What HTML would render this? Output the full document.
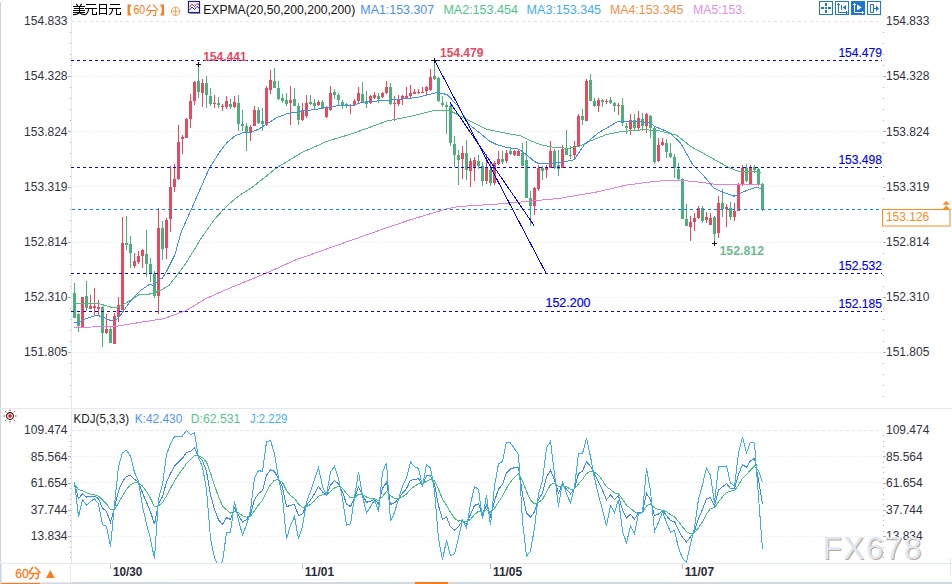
<!DOCTYPE html><html><head><meta charset="utf-8"><style>html,body{margin:0;padding:0;background:#fff;width:952px;height:584px;overflow:hidden}svg{display:block}</style></head><body>
<svg width="952" height="584" viewBox="0 0 952 584" font-family="Liberation Sans, sans-serif">
<rect x="0" y="0" width="952" height="584" fill="#fff"/>
<g shape-rendering="crispEdges">
<rect x="0" y="2" width="1" height="582" fill="#cdd4dd"/>
<rect x="71" y="0" width="1" height="563" fill="#e4e9ef"/>
<rect x="0" y="408" width="952" height="1" fill="#e4e9ef"/>
<rect x="0" y="563" width="952" height="1" fill="#e4e9ef"/>
<rect x="0" y="582" width="952" height="2" fill="#d3d7de"/>
<rect x="950" y="558" width="1" height="18" fill="#e4e9ef"/>
<rect x="1" y="582" width="39" height="2" fill="#ff7a1a"/>
<rect x="415" y="582" width="33" height="2" fill="#ff7a1a"/>
<rect x="175" y="579" width="164" height="1" fill="#eef1f5"/>
<line x1="72" y1="76.5" x2="882" y2="76.5" stroke="#e8ecf1" stroke-width="1" stroke-dasharray="1 2"/>
<line x1="72" y1="131.5" x2="882" y2="131.5" stroke="#e8ecf1" stroke-width="1" stroke-dasharray="1 2"/>
<line x1="72" y1="186.5" x2="882" y2="186.5" stroke="#e8ecf1" stroke-width="1" stroke-dasharray="1 2"/>
<line x1="72" y1="242.5" x2="882" y2="242.5" stroke="#e8ecf1" stroke-width="1" stroke-dasharray="1 2"/>
<line x1="72" y1="297.5" x2="882" y2="297.5" stroke="#e8ecf1" stroke-width="1" stroke-dasharray="1 2"/>
<line x1="72" y1="352.5" x2="882" y2="352.5" stroke="#e8ecf1" stroke-width="1" stroke-dasharray="1 2"/>
<line x1="72" y1="456.5" x2="882" y2="456.5" stroke="#e8ecf1" stroke-width="1" stroke-dasharray="1 2"/>
<line x1="72" y1="482.5" x2="882" y2="482.5" stroke="#e8ecf1" stroke-width="1" stroke-dasharray="1 2"/>
<line x1="72" y1="509.5" x2="882" y2="509.5" stroke="#e8ecf1" stroke-width="1" stroke-dasharray="1 2"/>
<line x1="72" y1="536.5" x2="882" y2="536.5" stroke="#e8ecf1" stroke-width="1" stroke-dasharray="1 2"/>
<line x1="72" y1="21.5" x2="882" y2="21.5" stroke="#e2e7ee" stroke-width="1" stroke-dasharray="3 3"/>
<line x1="72" y1="430.5" x2="882" y2="430.5" stroke="#e2e7ee" stroke-width="1" stroke-dasharray="3 3"/>
<rect x="70" y="32" width="1" height="1" fill="#aab3c0"/>
<rect x="883" y="32" width="1" height="1" fill="#aab3c0"/>
<rect x="70" y="43" width="1" height="1" fill="#aab3c0"/>
<rect x="883" y="43" width="1" height="1" fill="#aab3c0"/>
<rect x="70" y="54" width="1" height="1" fill="#aab3c0"/>
<rect x="883" y="54" width="1" height="1" fill="#aab3c0"/>
<rect x="70" y="65" width="1" height="1" fill="#aab3c0"/>
<rect x="883" y="65" width="1" height="1" fill="#aab3c0"/>
<rect x="68" y="76" width="3" height="1" fill="#aab3c0"/>
<rect x="883" y="76" width="3" height="1" fill="#aab3c0"/>
<rect x="70" y="87" width="1" height="1" fill="#aab3c0"/>
<rect x="883" y="87" width="1" height="1" fill="#aab3c0"/>
<rect x="70" y="98" width="1" height="1" fill="#aab3c0"/>
<rect x="883" y="98" width="1" height="1" fill="#aab3c0"/>
<rect x="70" y="109" width="1" height="1" fill="#aab3c0"/>
<rect x="883" y="109" width="1" height="1" fill="#aab3c0"/>
<rect x="70" y="120" width="1" height="1" fill="#aab3c0"/>
<rect x="883" y="120" width="1" height="1" fill="#aab3c0"/>
<rect x="68" y="131" width="3" height="1" fill="#aab3c0"/>
<rect x="883" y="131" width="3" height="1" fill="#aab3c0"/>
<rect x="70" y="142" width="1" height="1" fill="#aab3c0"/>
<rect x="883" y="142" width="1" height="1" fill="#aab3c0"/>
<rect x="70" y="153" width="1" height="1" fill="#aab3c0"/>
<rect x="883" y="153" width="1" height="1" fill="#aab3c0"/>
<rect x="70" y="165" width="1" height="1" fill="#aab3c0"/>
<rect x="883" y="165" width="1" height="1" fill="#aab3c0"/>
<rect x="70" y="176" width="1" height="1" fill="#aab3c0"/>
<rect x="883" y="176" width="1" height="1" fill="#aab3c0"/>
<rect x="68" y="187" width="3" height="1" fill="#aab3c0"/>
<rect x="883" y="187" width="3" height="1" fill="#aab3c0"/>
<rect x="70" y="198" width="1" height="1" fill="#aab3c0"/>
<rect x="883" y="198" width="1" height="1" fill="#aab3c0"/>
<rect x="70" y="209" width="1" height="1" fill="#aab3c0"/>
<rect x="883" y="209" width="1" height="1" fill="#aab3c0"/>
<rect x="70" y="220" width="1" height="1" fill="#aab3c0"/>
<rect x="883" y="220" width="1" height="1" fill="#aab3c0"/>
<rect x="70" y="231" width="1" height="1" fill="#aab3c0"/>
<rect x="883" y="231" width="1" height="1" fill="#aab3c0"/>
<rect x="68" y="242" width="3" height="1" fill="#aab3c0"/>
<rect x="883" y="242" width="3" height="1" fill="#aab3c0"/>
<rect x="70" y="253" width="1" height="1" fill="#aab3c0"/>
<rect x="883" y="253" width="1" height="1" fill="#aab3c0"/>
<rect x="70" y="264" width="1" height="1" fill="#aab3c0"/>
<rect x="883" y="264" width="1" height="1" fill="#aab3c0"/>
<rect x="70" y="275" width="1" height="1" fill="#aab3c0"/>
<rect x="883" y="275" width="1" height="1" fill="#aab3c0"/>
<rect x="70" y="286" width="1" height="1" fill="#aab3c0"/>
<rect x="883" y="286" width="1" height="1" fill="#aab3c0"/>
<rect x="68" y="297" width="3" height="1" fill="#aab3c0"/>
<rect x="883" y="297" width="3" height="1" fill="#aab3c0"/>
<rect x="70" y="308" width="1" height="1" fill="#aab3c0"/>
<rect x="883" y="308" width="1" height="1" fill="#aab3c0"/>
<rect x="70" y="319" width="1" height="1" fill="#aab3c0"/>
<rect x="883" y="319" width="1" height="1" fill="#aab3c0"/>
<rect x="70" y="330" width="1" height="1" fill="#aab3c0"/>
<rect x="883" y="330" width="1" height="1" fill="#aab3c0"/>
<rect x="70" y="341" width="1" height="1" fill="#aab3c0"/>
<rect x="883" y="341" width="1" height="1" fill="#aab3c0"/>
<rect x="68" y="352" width="3" height="1" fill="#aab3c0"/>
<rect x="883" y="352" width="3" height="1" fill="#aab3c0"/>
<rect x="70" y="363" width="1" height="1" fill="#aab3c0"/>
<rect x="883" y="363" width="1" height="1" fill="#aab3c0"/>
<rect x="70" y="374" width="1" height="1" fill="#aab3c0"/>
<rect x="883" y="374" width="1" height="1" fill="#aab3c0"/>
<rect x="70" y="385" width="1" height="1" fill="#aab3c0"/>
<rect x="883" y="385" width="1" height="1" fill="#aab3c0"/>
<rect x="70" y="396" width="1" height="1" fill="#aab3c0"/>
<rect x="883" y="396" width="1" height="1" fill="#aab3c0"/>
<rect x="70" y="435" width="1" height="1" fill="#aab3c0"/>
<rect x="883" y="435" width="1" height="1" fill="#aab3c0"/>
<rect x="70" y="441" width="1" height="1" fill="#aab3c0"/>
<rect x="883" y="441" width="1" height="1" fill="#aab3c0"/>
<rect x="70" y="446" width="1" height="1" fill="#aab3c0"/>
<rect x="883" y="446" width="1" height="1" fill="#aab3c0"/>
<rect x="70" y="451" width="1" height="1" fill="#aab3c0"/>
<rect x="883" y="451" width="1" height="1" fill="#aab3c0"/>
<rect x="68" y="456" width="3" height="1" fill="#aab3c0"/>
<rect x="883" y="456" width="3" height="1" fill="#aab3c0"/>
<rect x="70" y="462" width="1" height="1" fill="#aab3c0"/>
<rect x="883" y="462" width="1" height="1" fill="#aab3c0"/>
<rect x="70" y="467" width="1" height="1" fill="#aab3c0"/>
<rect x="883" y="467" width="1" height="1" fill="#aab3c0"/>
<rect x="70" y="472" width="1" height="1" fill="#aab3c0"/>
<rect x="883" y="472" width="1" height="1" fill="#aab3c0"/>
<rect x="70" y="478" width="1" height="1" fill="#aab3c0"/>
<rect x="883" y="478" width="1" height="1" fill="#aab3c0"/>
<rect x="68" y="483" width="3" height="1" fill="#aab3c0"/>
<rect x="883" y="483" width="3" height="1" fill="#aab3c0"/>
<rect x="70" y="488" width="1" height="1" fill="#aab3c0"/>
<rect x="883" y="488" width="1" height="1" fill="#aab3c0"/>
<rect x="70" y="494" width="1" height="1" fill="#aab3c0"/>
<rect x="883" y="494" width="1" height="1" fill="#aab3c0"/>
<rect x="70" y="499" width="1" height="1" fill="#aab3c0"/>
<rect x="883" y="499" width="1" height="1" fill="#aab3c0"/>
<rect x="70" y="504" width="1" height="1" fill="#aab3c0"/>
<rect x="883" y="504" width="1" height="1" fill="#aab3c0"/>
<rect x="68" y="510" width="3" height="1" fill="#aab3c0"/>
<rect x="883" y="510" width="3" height="1" fill="#aab3c0"/>
<rect x="70" y="515" width="1" height="1" fill="#aab3c0"/>
<rect x="883" y="515" width="1" height="1" fill="#aab3c0"/>
<rect x="70" y="520" width="1" height="1" fill="#aab3c0"/>
<rect x="883" y="520" width="1" height="1" fill="#aab3c0"/>
<rect x="70" y="525" width="1" height="1" fill="#aab3c0"/>
<rect x="883" y="525" width="1" height="1" fill="#aab3c0"/>
<rect x="70" y="531" width="1" height="1" fill="#aab3c0"/>
<rect x="883" y="531" width="1" height="1" fill="#aab3c0"/>
<rect x="68" y="536" width="3" height="1" fill="#aab3c0"/>
<rect x="883" y="536" width="3" height="1" fill="#aab3c0"/>
<rect x="70" y="541" width="1" height="1" fill="#aab3c0"/>
<rect x="883" y="541" width="1" height="1" fill="#aab3c0"/>
<rect x="70" y="547" width="1" height="1" fill="#aab3c0"/>
<rect x="883" y="547" width="1" height="1" fill="#aab3c0"/>
<rect x="70" y="552" width="1" height="1" fill="#aab3c0"/>
<rect x="883" y="552" width="1" height="1" fill="#aab3c0"/>
<rect x="70" y="557" width="1" height="1" fill="#aab3c0"/>
<rect x="883" y="557" width="1" height="1" fill="#aab3c0"/>
<rect x="110" y="564" width="1" height="5" fill="#b4bcc8"/>
<rect x="302" y="564" width="1" height="5" fill="#b4bcc8"/>
<rect x="490" y="564" width="1" height="5" fill="#b4bcc8"/>
<rect x="682" y="564" width="1" height="5" fill="#b4bcc8"/>
</g>
<text x="67.5" y="25.2" fill="#333340" font-size="12" text-anchor="end" font-weight="normal">154.833</text>
<text x="886.0" y="25.2" fill="#333340" font-size="12" text-anchor="start" font-weight="normal">154.833</text>
<text x="67.5" y="80.4" fill="#333340" font-size="12" text-anchor="end" font-weight="normal">154.328</text>
<text x="886.0" y="80.4" fill="#333340" font-size="12" text-anchor="start" font-weight="normal">154.328</text>
<text x="67.5" y="135.6" fill="#333340" font-size="12" text-anchor="end" font-weight="normal">153.824</text>
<text x="886.0" y="135.6" fill="#333340" font-size="12" text-anchor="start" font-weight="normal">153.824</text>
<text x="67.5" y="190.8" fill="#333340" font-size="12" text-anchor="end" font-weight="normal">153.319</text>
<text x="886.0" y="190.8" fill="#333340" font-size="12" text-anchor="start" font-weight="normal">153.319</text>
<text x="67.5" y="246.0" fill="#333340" font-size="12" text-anchor="end" font-weight="normal">152.814</text>
<text x="886.0" y="246.0" fill="#333340" font-size="12" text-anchor="start" font-weight="normal">152.814</text>
<text x="67.5" y="301.2" fill="#333340" font-size="12" text-anchor="end" font-weight="normal">152.310</text>
<text x="886.0" y="301.2" fill="#333340" font-size="12" text-anchor="start" font-weight="normal">152.310</text>
<text x="67.5" y="356.4" fill="#333340" font-size="12" text-anchor="end" font-weight="normal">151.805</text>
<text x="886.0" y="356.4" fill="#333340" font-size="12" text-anchor="start" font-weight="normal">151.805</text>
<text x="67.5" y="434.2" fill="#333340" font-size="12" text-anchor="end" font-weight="normal">109.474</text>
<text x="886.0" y="434.2" fill="#333340" font-size="12" text-anchor="start" font-weight="normal">109.474</text>
<text x="67.5" y="460.7" fill="#333340" font-size="12" text-anchor="end" font-weight="normal">85.564</text>
<text x="886.0" y="460.7" fill="#333340" font-size="12" text-anchor="start" font-weight="normal">85.564</text>
<text x="67.5" y="487.2" fill="#333340" font-size="12" text-anchor="end" font-weight="normal">61.654</text>
<text x="886.0" y="487.2" fill="#333340" font-size="12" text-anchor="start" font-weight="normal">61.654</text>
<text x="67.5" y="513.7" fill="#333340" font-size="12" text-anchor="end" font-weight="normal">37.744</text>
<text x="886.0" y="513.7" fill="#333340" font-size="12" text-anchor="start" font-weight="normal">37.744</text>
<text x="67.5" y="540.2" fill="#333340" font-size="12" text-anchor="end" font-weight="normal">13.834</text>
<text x="886.0" y="540.2" fill="#333340" font-size="12" text-anchor="start" font-weight="normal">13.834</text>
<g shape-rendering="crispEdges">
<rect x="74" y="283.0" width="1" height="34.5" fill="#4cb07e"/>
<rect x="73" y="293.0" width="3" height="24.5" fill="#4cb07e"/>
<rect x="78" y="313.0" width="1" height="18.5" fill="#4cb07e"/>
<rect x="77" y="314.0" width="3" height="12.0" fill="#4cb07e"/>
<rect x="82" y="296.5" width="1" height="30.0" fill="#e9485e"/>
<rect x="81" y="296.8" width="3" height="29.7" fill="#e9485e"/>
<rect x="86" y="281.0" width="1" height="29.5" fill="#4cb07e"/>
<rect x="85" y="296.0" width="3" height="12.0" fill="#4cb07e"/>
<rect x="90" y="295.0" width="1" height="14.0" fill="#e9485e"/>
<rect x="89" y="306.0" width="3" height="2.5" fill="#e9485e"/>
<rect x="94" y="288.0" width="1" height="27.0" fill="#e9485e"/>
<rect x="93" y="306.0" width="3" height="2.0" fill="#e9485e"/>
<rect x="98" y="299.8" width="1" height="14.7" fill="#e9485e"/>
<rect x="97" y="307.0" width="3" height="2.0" fill="#e9485e"/>
<rect x="102" y="306.0" width="1" height="40.5" fill="#4cb07e"/>
<rect x="101" y="307.0" width="3" height="25.5" fill="#4cb07e"/>
<rect x="106" y="314.0" width="1" height="20.0" fill="#e9485e"/>
<rect x="105" y="328.5" width="3" height="4.5" fill="#e9485e"/>
<rect x="110" y="327.0" width="1" height="15.5" fill="#4cb07e"/>
<rect x="109" y="329.0" width="3" height="13.5" fill="#4cb07e"/>
<rect x="114" y="313.0" width="1" height="31.0" fill="#e9485e"/>
<rect x="113" y="316.0" width="3" height="28.0" fill="#e9485e"/>
<rect x="118" y="297.0" width="1" height="25.0" fill="#e9485e"/>
<rect x="117" y="304.5" width="3" height="12.0" fill="#e9485e"/>
<rect x="122" y="217.0" width="1" height="93.0" fill="#e9485e"/>
<rect x="121" y="242.5" width="3" height="67.5" fill="#e9485e"/>
<rect x="126" y="215.5" width="1" height="34.0" fill="#4cb07e"/>
<rect x="125" y="242.5" width="3" height="2.5" fill="#4cb07e"/>
<rect x="130" y="236.0" width="1" height="31.5" fill="#4cb07e"/>
<rect x="129" y="244.0" width="3" height="9.0" fill="#4cb07e"/>
<rect x="134" y="252.5" width="1" height="15.0" fill="#e9485e"/>
<rect x="133" y="261.0" width="3" height="4.5" fill="#e9485e"/>
<rect x="138" y="251.0" width="1" height="13.0" fill="#e9485e"/>
<rect x="137" y="256.0" width="3" height="6.0" fill="#e9485e"/>
<rect x="142" y="249.0" width="1" height="18.5" fill="#e9485e"/>
<rect x="141" y="250.0" width="3" height="5.5" fill="#e9485e"/>
<rect x="146" y="229.5" width="1" height="47.5" fill="#4cb07e"/>
<rect x="145" y="254.0" width="3" height="10.0" fill="#4cb07e"/>
<rect x="150" y="257.7" width="1" height="24.7" fill="#4cb07e"/>
<rect x="149" y="264.0" width="3" height="8.8" fill="#4cb07e"/>
<rect x="154" y="271.0" width="1" height="26.5" fill="#4cb07e"/>
<rect x="153" y="272.5" width="3" height="23.5" fill="#4cb07e"/>
<rect x="158" y="208.0" width="1" height="106.0" fill="#e9485e"/>
<rect x="157" y="228.0" width="3" height="68.0" fill="#e9485e"/>
<rect x="162" y="221.0" width="1" height="39.0" fill="#4cb07e"/>
<rect x="161" y="227.5" width="3" height="21.5" fill="#4cb07e"/>
<rect x="166" y="218.0" width="1" height="41.0" fill="#e9485e"/>
<rect x="165" y="220.0" width="3" height="27.5" fill="#e9485e"/>
<rect x="170" y="166.0" width="1" height="66.0" fill="#e9485e"/>
<rect x="169" y="187.0" width="3" height="32.0" fill="#e9485e"/>
<rect x="174" y="164.0" width="1" height="27.7" fill="#e9485e"/>
<rect x="173" y="179.0" width="3" height="8.0" fill="#e9485e"/>
<rect x="178" y="125.3" width="1" height="54.7" fill="#e9485e"/>
<rect x="177" y="141.5" width="3" height="37.1" fill="#e9485e"/>
<rect x="182" y="134.8" width="1" height="19.1" fill="#e9485e"/>
<rect x="181" y="137.0" width="3" height="2.0" fill="#e9485e"/>
<rect x="186" y="118.0" width="1" height="20.0" fill="#e9485e"/>
<rect x="185" y="119.0" width="3" height="19.0" fill="#e9485e"/>
<rect x="190" y="94.0" width="1" height="33.9" fill="#e9485e"/>
<rect x="189" y="101.2" width="3" height="17.9" fill="#e9485e"/>
<rect x="194" y="80.8" width="1" height="24.0" fill="#e9485e"/>
<rect x="193" y="81.6" width="3" height="19.3" fill="#e9485e"/>
<rect x="198" y="64.7" width="1" height="33.1" fill="#4cb07e"/>
<rect x="197" y="80.8" width="3" height="10.8" fill="#4cb07e"/>
<rect x="202" y="79.0" width="1" height="28.0" fill="#e9485e"/>
<rect x="201" y="83.2" width="3" height="9.7" fill="#e9485e"/>
<rect x="206" y="76.2" width="1" height="31.6" fill="#4cb07e"/>
<rect x="205" y="83.2" width="3" height="11.5" fill="#4cb07e"/>
<rect x="210" y="87.8" width="1" height="18.5" fill="#4cb07e"/>
<rect x="209" y="96.0" width="3" height="8.0" fill="#4cb07e"/>
<rect x="214" y="95.0" width="1" height="12.8" fill="#e9485e"/>
<rect x="213" y="102.8" width="3" height="1.0" fill="#e9485e"/>
<rect x="218" y="97.0" width="1" height="10.8" fill="#4cb07e"/>
<rect x="217" y="103.2" width="3" height="1.6" fill="#4cb07e"/>
<rect x="222" y="104.0" width="1" height="7.0" fill="#e9485e"/>
<rect x="221" y="105.5" width="3" height="1.3" fill="#e9485e"/>
<rect x="226" y="96.0" width="1" height="12.6" fill="#e9485e"/>
<rect x="225" y="101.0" width="3" height="5.8" fill="#e9485e"/>
<rect x="230" y="99.0" width="1" height="10.0" fill="#4cb07e"/>
<rect x="229" y="104.0" width="3" height="3.0" fill="#4cb07e"/>
<rect x="234" y="96.0" width="1" height="12.0" fill="#e9485e"/>
<rect x="233" y="102.0" width="3" height="5.0" fill="#e9485e"/>
<rect x="238" y="95.0" width="1" height="36.0" fill="#4cb07e"/>
<rect x="237" y="103.0" width="3" height="21.0" fill="#4cb07e"/>
<rect x="242" y="109.5" width="1" height="21.5" fill="#4cb07e"/>
<rect x="241" y="124.0" width="3" height="2.0" fill="#4cb07e"/>
<rect x="246" y="122.5" width="1" height="28.5" fill="#4cb07e"/>
<rect x="245" y="126.0" width="3" height="6.5" fill="#4cb07e"/>
<rect x="250" y="125.0" width="1" height="15.5" fill="#e9485e"/>
<rect x="249" y="127.0" width="3" height="6.0" fill="#e9485e"/>
<rect x="254" y="106.0" width="1" height="20.0" fill="#e9485e"/>
<rect x="253" y="110.0" width="3" height="16.0" fill="#e9485e"/>
<rect x="258" y="107.0" width="1" height="17.0" fill="#4cb07e"/>
<rect x="257" y="110.0" width="3" height="12.5" fill="#4cb07e"/>
<rect x="262" y="108.0" width="1" height="23.0" fill="#4cb07e"/>
<rect x="261" y="121.0" width="3" height="3.0" fill="#4cb07e"/>
<rect x="266" y="86.0" width="1" height="40.0" fill="#e9485e"/>
<rect x="265" y="88.0" width="3" height="37.0" fill="#e9485e"/>
<rect x="270" y="70.0" width="1" height="24.0" fill="#e9485e"/>
<rect x="269" y="80.0" width="3" height="10.0" fill="#e9485e"/>
<rect x="274" y="68.0" width="1" height="20.0" fill="#4cb07e"/>
<rect x="273" y="80.5" width="3" height="7.0" fill="#4cb07e"/>
<rect x="278" y="81.0" width="1" height="19.0" fill="#4cb07e"/>
<rect x="277" y="87.5" width="3" height="11.5" fill="#4cb07e"/>
<rect x="282" y="94.0" width="1" height="8.5" fill="#4cb07e"/>
<rect x="281" y="97.5" width="3" height="3.5" fill="#4cb07e"/>
<rect x="286" y="93.0" width="1" height="13.0" fill="#4cb07e"/>
<rect x="285" y="100.0" width="3" height="4.0" fill="#4cb07e"/>
<rect x="290" y="86.0" width="1" height="38.5" fill="#e9485e"/>
<rect x="289" y="99.5" width="3" height="3.0" fill="#e9485e"/>
<rect x="294" y="87.5" width="1" height="18.5" fill="#4cb07e"/>
<rect x="293" y="99.0" width="3" height="6.5" fill="#4cb07e"/>
<rect x="298" y="103.0" width="1" height="21.5" fill="#4cb07e"/>
<rect x="297" y="105.5" width="3" height="14.5" fill="#4cb07e"/>
<rect x="302" y="103.0" width="1" height="18.0" fill="#e9485e"/>
<rect x="301" y="110.0" width="3" height="10.0" fill="#e9485e"/>
<rect x="306" y="94.5" width="1" height="23.0" fill="#e9485e"/>
<rect x="305" y="102.5" width="3" height="13.5" fill="#e9485e"/>
<rect x="310" y="94.5" width="1" height="10.0" fill="#4cb07e"/>
<rect x="309" y="102.0" width="3" height="2.0" fill="#4cb07e"/>
<rect x="314" y="99.0" width="1" height="10.0" fill="#4cb07e"/>
<rect x="313" y="102.5" width="3" height="3.0" fill="#4cb07e"/>
<rect x="318" y="99.5" width="1" height="6.0" fill="#e9485e"/>
<rect x="317" y="102.0" width="3" height="2.5" fill="#e9485e"/>
<rect x="322" y="100.0" width="1" height="9.0" fill="#4cb07e"/>
<rect x="321" y="102.0" width="3" height="5.5" fill="#4cb07e"/>
<rect x="326" y="105.5" width="1" height="12.0" fill="#e9485e"/>
<rect x="325" y="107.0" width="3" height="10.0" fill="#e9485e"/>
<rect x="330" y="86.0" width="1" height="25.0" fill="#e9485e"/>
<rect x="329" y="93.0" width="3" height="17.0" fill="#e9485e"/>
<rect x="334" y="89.0" width="1" height="10.0" fill="#4cb07e"/>
<rect x="333" y="92.0" width="3" height="3.0" fill="#4cb07e"/>
<rect x="338" y="93.0" width="1" height="12.0" fill="#4cb07e"/>
<rect x="337" y="94.5" width="3" height="5.5" fill="#4cb07e"/>
<rect x="342" y="99.5" width="1" height="9.5" fill="#4cb07e"/>
<rect x="341" y="102.0" width="3" height="3.0" fill="#4cb07e"/>
<rect x="346" y="102.5" width="1" height="5.5" fill="#4cb07e"/>
<rect x="345" y="104.0" width="3" height="2.0" fill="#4cb07e"/>
<rect x="350" y="104.0" width="1" height="10.0" fill="#e9485e"/>
<rect x="349" y="105.0" width="3" height="1.0" fill="#e9485e"/>
<rect x="354" y="99.0" width="1" height="7.0" fill="#e9485e"/>
<rect x="353" y="100.5" width="3" height="4.5" fill="#e9485e"/>
<rect x="358" y="87.0" width="1" height="15.5" fill="#e9485e"/>
<rect x="357" y="93.0" width="3" height="8.0" fill="#e9485e"/>
<rect x="362" y="82.0" width="1" height="21.0" fill="#4cb07e"/>
<rect x="361" y="94.0" width="3" height="8.5" fill="#4cb07e"/>
<rect x="366" y="90.5" width="1" height="17.0" fill="#4cb07e"/>
<rect x="365" y="101.0" width="3" height="3.0" fill="#4cb07e"/>
<rect x="370" y="94.5" width="1" height="9.5" fill="#e9485e"/>
<rect x="369" y="95.5" width="3" height="7.0" fill="#e9485e"/>
<rect x="374" y="92.0" width="1" height="7.0" fill="#e9485e"/>
<rect x="373" y="94.5" width="3" height="3.0" fill="#e9485e"/>
<rect x="378" y="93.0" width="1" height="9.5" fill="#4cb07e"/>
<rect x="377" y="95.5" width="3" height="3.5" fill="#4cb07e"/>
<rect x="382" y="92.0" width="1" height="6.0" fill="#e9485e"/>
<rect x="381" y="93.0" width="3" height="4.0" fill="#e9485e"/>
<rect x="386" y="81.0" width="1" height="13.0" fill="#e9485e"/>
<rect x="385" y="87.0" width="3" height="6.0" fill="#e9485e"/>
<rect x="390" y="82.5" width="1" height="22.0" fill="#4cb07e"/>
<rect x="389" y="87.0" width="3" height="17.0" fill="#4cb07e"/>
<rect x="394" y="96.0" width="1" height="25.0" fill="#e9485e"/>
<rect x="393" y="102.5" width="3" height="1.5" fill="#e9485e"/>
<rect x="398" y="95.0" width="1" height="10.5" fill="#e9485e"/>
<rect x="397" y="99.0" width="3" height="5.0" fill="#e9485e"/>
<rect x="402" y="95.0" width="1" height="10.0" fill="#e9485e"/>
<rect x="401" y="96.0" width="3" height="3.0" fill="#e9485e"/>
<rect x="406" y="86.9" width="1" height="10.7" fill="#e9485e"/>
<rect x="405" y="96.1" width="3" height="1.5" fill="#e9485e"/>
<rect x="410" y="85.0" width="1" height="12.5" fill="#e9485e"/>
<rect x="409" y="92.5" width="3" height="3.5" fill="#e9485e"/>
<rect x="414" y="88.9" width="1" height="4.6" fill="#e9485e"/>
<rect x="413" y="92.0" width="3" height="1.5" fill="#e9485e"/>
<rect x="418" y="88.9" width="1" height="4.6" fill="#e9485e"/>
<rect x="417" y="91.5" width="3" height="1.5" fill="#e9485e"/>
<rect x="422" y="87.0" width="1" height="5.8" fill="#e9485e"/>
<rect x="421" y="91.5" width="3" height="1.3" fill="#e9485e"/>
<rect x="426" y="85.8" width="1" height="8.8" fill="#e9485e"/>
<rect x="425" y="86.9" width="3" height="3.6" fill="#e9485e"/>
<rect x="430" y="69.0" width="1" height="21.5" fill="#e9485e"/>
<rect x="429" y="77.0" width="3" height="13.0" fill="#e9485e"/>
<rect x="434" y="60.0" width="1" height="20.0" fill="#4cb07e"/>
<rect x="433" y="76.0" width="3" height="3.0" fill="#4cb07e"/>
<rect x="438" y="77.0" width="1" height="25.0" fill="#4cb07e"/>
<rect x="437" y="78.0" width="3" height="23.0" fill="#4cb07e"/>
<rect x="442" y="95.9" width="1" height="11.1" fill="#4cb07e"/>
<rect x="441" y="102.7" width="3" height="2.6" fill="#4cb07e"/>
<rect x="446" y="101.8" width="1" height="31.7" fill="#4cb07e"/>
<rect x="445" y="104.9" width="3" height="2.1" fill="#4cb07e"/>
<rect x="450" y="104.0" width="1" height="42.0" fill="#4cb07e"/>
<rect x="449" y="106.0" width="3" height="36.5" fill="#4cb07e"/>
<rect x="454" y="136.1" width="1" height="30.8" fill="#4cb07e"/>
<rect x="453" y="143.8" width="3" height="11.1" fill="#4cb07e"/>
<rect x="458" y="150.0" width="1" height="35.0" fill="#4cb07e"/>
<rect x="457" y="155.0" width="3" height="4.5" fill="#4cb07e"/>
<rect x="462" y="146.0" width="1" height="33.0" fill="#e9485e"/>
<rect x="461" y="153.0" width="3" height="6.0" fill="#e9485e"/>
<rect x="466" y="140.0" width="1" height="40.0" fill="#4cb07e"/>
<rect x="465" y="153.0" width="3" height="17.0" fill="#4cb07e"/>
<rect x="470" y="157.5" width="1" height="29.5" fill="#e9485e"/>
<rect x="469" y="161.0" width="3" height="9.5" fill="#e9485e"/>
<rect x="474" y="157.0" width="1" height="24.0" fill="#e9485e"/>
<rect x="473" y="160.0" width="3" height="7.5" fill="#e9485e"/>
<rect x="478" y="155.0" width="1" height="14.0" fill="#4cb07e"/>
<rect x="477" y="161.0" width="3" height="4.5" fill="#4cb07e"/>
<rect x="482" y="162.0" width="1" height="24.0" fill="#4cb07e"/>
<rect x="481" y="165.5" width="3" height="15.0" fill="#4cb07e"/>
<rect x="486" y="154.0" width="1" height="29.8" fill="#e9485e"/>
<rect x="485" y="167.5" width="3" height="13.5" fill="#e9485e"/>
<rect x="490" y="163.0" width="1" height="23.0" fill="#4cb07e"/>
<rect x="489" y="170.0" width="3" height="12.5" fill="#4cb07e"/>
<rect x="494" y="161.0" width="1" height="24.0" fill="#e9485e"/>
<rect x="493" y="162.5" width="3" height="20.0" fill="#e9485e"/>
<rect x="498" y="151.0" width="1" height="14.0" fill="#e9485e"/>
<rect x="497" y="159.0" width="3" height="5.0" fill="#e9485e"/>
<rect x="502" y="151.0" width="1" height="12.8" fill="#4cb07e"/>
<rect x="501" y="159.0" width="3" height="3.0" fill="#4cb07e"/>
<rect x="506" y="150.0" width="1" height="12.5" fill="#e9485e"/>
<rect x="505" y="153.0" width="3" height="8.0" fill="#e9485e"/>
<rect x="510" y="147.0" width="1" height="8.0" fill="#4cb07e"/>
<rect x="509" y="151.0" width="3" height="3.0" fill="#4cb07e"/>
<rect x="514" y="150.0" width="1" height="5.5" fill="#e9485e"/>
<rect x="513" y="151.0" width="3" height="3.5" fill="#e9485e"/>
<rect x="518" y="149.5" width="1" height="6.8" fill="#e9485e"/>
<rect x="517" y="151.0" width="3" height="4.5" fill="#e9485e"/>
<rect x="522" y="142.5" width="1" height="23.8" fill="#4cb07e"/>
<rect x="521" y="152.5" width="3" height="13.0" fill="#4cb07e"/>
<rect x="526" y="141.0" width="1" height="57.0" fill="#4cb07e"/>
<rect x="525" y="160.0" width="3" height="37.5" fill="#4cb07e"/>
<rect x="530" y="190.5" width="1" height="35.5" fill="#4cb07e"/>
<rect x="529" y="197.5" width="3" height="8.5" fill="#4cb07e"/>
<rect x="534" y="187.0" width="1" height="28.0" fill="#e9485e"/>
<rect x="533" y="188.0" width="3" height="18.0" fill="#e9485e"/>
<rect x="538" y="165.0" width="1" height="26.0" fill="#e9485e"/>
<rect x="537" y="167.5" width="3" height="21.5" fill="#e9485e"/>
<rect x="542" y="166.0" width="1" height="14.0" fill="#4cb07e"/>
<rect x="541" y="167.5" width="3" height="3.5" fill="#4cb07e"/>
<rect x="546" y="164.5" width="1" height="13.0" fill="#e9485e"/>
<rect x="545" y="167.5" width="3" height="2.5" fill="#e9485e"/>
<rect x="550" y="140.5" width="1" height="27.5" fill="#e9485e"/>
<rect x="549" y="151.0" width="3" height="16.5" fill="#e9485e"/>
<rect x="554" y="149.0" width="1" height="19.8" fill="#4cb07e"/>
<rect x="553" y="151.0" width="3" height="16.5" fill="#4cb07e"/>
<rect x="558" y="150.0" width="1" height="26.0" fill="#4cb07e"/>
<rect x="557" y="164.5" width="3" height="4.2" fill="#4cb07e"/>
<rect x="562" y="144.8" width="1" height="23.2" fill="#e9485e"/>
<rect x="561" y="149.0" width="3" height="18.5" fill="#e9485e"/>
<rect x="566" y="130.2" width="1" height="24.8" fill="#4cb07e"/>
<rect x="565" y="149.0" width="3" height="5.5" fill="#4cb07e"/>
<rect x="570" y="146.0" width="1" height="13.0" fill="#4cb07e"/>
<rect x="569" y="154.5" width="3" height="1.5" fill="#4cb07e"/>
<rect x="574" y="141.0" width="1" height="17.8" fill="#e9485e"/>
<rect x="573" y="145.6" width="3" height="9.4" fill="#e9485e"/>
<rect x="578" y="114.0" width="1" height="33.0" fill="#e9485e"/>
<rect x="577" y="115.8" width="3" height="30.6" fill="#e9485e"/>
<rect x="582" y="109.0" width="1" height="15.8" fill="#4cb07e"/>
<rect x="581" y="116.3" width="3" height="3.9" fill="#4cb07e"/>
<rect x="586" y="78.8" width="1" height="42.2" fill="#e9485e"/>
<rect x="585" y="80.8" width="3" height="40.1" fill="#e9485e"/>
<rect x="590" y="73.9" width="1" height="27.1" fill="#4cb07e"/>
<rect x="589" y="80.0" width="3" height="20.9" fill="#4cb07e"/>
<rect x="594" y="97.8" width="1" height="9.2" fill="#4cb07e"/>
<rect x="593" y="100.9" width="3" height="5.4" fill="#4cb07e"/>
<rect x="598" y="97.8" width="1" height="13.9" fill="#e9485e"/>
<rect x="597" y="100.1" width="3" height="6.2" fill="#e9485e"/>
<rect x="602" y="98.5" width="1" height="8.5" fill="#4cb07e"/>
<rect x="601" y="100.4" width="3" height="1.6" fill="#4cb07e"/>
<rect x="606" y="98.5" width="1" height="5.5" fill="#e9485e"/>
<rect x="605" y="100.8" width="3" height="1.2" fill="#e9485e"/>
<rect x="610" y="97.0" width="1" height="7.0" fill="#4cb07e"/>
<rect x="609" y="99.8" width="3" height="3.1" fill="#4cb07e"/>
<rect x="614" y="101.6" width="1" height="10.1" fill="#4cb07e"/>
<rect x="613" y="103.0" width="3" height="3.0" fill="#4cb07e"/>
<rect x="618" y="103.0" width="1" height="11.8" fill="#e9485e"/>
<rect x="617" y="104.7" width="3" height="1.6" fill="#e9485e"/>
<rect x="622" y="97.5" width="1" height="28.5" fill="#4cb07e"/>
<rect x="621" y="105.0" width="3" height="17.5" fill="#4cb07e"/>
<rect x="626" y="122.5" width="1" height="11.2" fill="#4cb07e"/>
<rect x="625" y="126.0" width="3" height="2.0" fill="#4cb07e"/>
<rect x="630" y="113.8" width="1" height="21.2" fill="#e9485e"/>
<rect x="629" y="120.0" width="3" height="8.8" fill="#e9485e"/>
<rect x="634" y="113.8" width="1" height="17.5" fill="#4cb07e"/>
<rect x="633" y="120.0" width="3" height="7.5" fill="#4cb07e"/>
<rect x="638" y="110.5" width="1" height="19.5" fill="#e9485e"/>
<rect x="637" y="117.5" width="3" height="10.0" fill="#e9485e"/>
<rect x="642" y="112.5" width="1" height="18.8" fill="#4cb07e"/>
<rect x="641" y="118.8" width="3" height="7.5" fill="#4cb07e"/>
<rect x="646" y="113.0" width="1" height="19.5" fill="#e9485e"/>
<rect x="645" y="113.8" width="3" height="12.5" fill="#e9485e"/>
<rect x="650" y="114.5" width="1" height="23.0" fill="#4cb07e"/>
<rect x="649" y="115.5" width="3" height="12.5" fill="#4cb07e"/>
<rect x="654" y="127.0" width="1" height="36.8" fill="#4cb07e"/>
<rect x="653" y="128.0" width="3" height="34.0" fill="#4cb07e"/>
<rect x="658" y="138.0" width="1" height="24.0" fill="#e9485e"/>
<rect x="657" y="145.0" width="3" height="16.2" fill="#e9485e"/>
<rect x="662" y="138.0" width="1" height="8.2" fill="#e9485e"/>
<rect x="661" y="142.0" width="3" height="3.0" fill="#e9485e"/>
<rect x="666" y="138.8" width="1" height="18.8" fill="#4cb07e"/>
<rect x="665" y="142.5" width="3" height="9.5" fill="#4cb07e"/>
<rect x="670" y="142.5" width="1" height="15.5" fill="#4cb07e"/>
<rect x="669" y="153.0" width="3" height="4.0" fill="#4cb07e"/>
<rect x="674" y="153.8" width="1" height="23.8" fill="#4cb07e"/>
<rect x="673" y="157.0" width="3" height="10.5" fill="#4cb07e"/>
<rect x="678" y="162.5" width="1" height="17.5" fill="#4cb07e"/>
<rect x="677" y="168.8" width="3" height="10.0" fill="#4cb07e"/>
<rect x="682" y="178.0" width="1" height="40.8" fill="#4cb07e"/>
<rect x="681" y="179.0" width="3" height="39.5" fill="#4cb07e"/>
<rect x="686" y="204.0" width="1" height="21.6" fill="#4cb07e"/>
<rect x="685" y="219.0" width="3" height="6.6" fill="#4cb07e"/>
<rect x="690" y="216.2" width="1" height="24.5" fill="#e9485e"/>
<rect x="689" y="221.8" width="3" height="4.7" fill="#e9485e"/>
<rect x="694" y="212.9" width="1" height="17.9" fill="#e9485e"/>
<rect x="693" y="218.0" width="3" height="3.8" fill="#e9485e"/>
<rect x="698" y="205.5" width="1" height="13.2" fill="#e9485e"/>
<rect x="697" y="207.5" width="3" height="10.5" fill="#e9485e"/>
<rect x="702" y="206.2" width="1" height="16.8" fill="#4cb07e"/>
<rect x="701" y="208.0" width="3" height="13.0" fill="#4cb07e"/>
<rect x="706" y="212.0" width="1" height="10.8" fill="#e9485e"/>
<rect x="705" y="217.1" width="3" height="2.9" fill="#e9485e"/>
<rect x="710" y="212.9" width="1" height="11.8" fill="#e9485e"/>
<rect x="709" y="218.0" width="3" height="6.7" fill="#e9485e"/>
<rect x="714" y="216.2" width="1" height="26.8" fill="#4cb07e"/>
<rect x="713" y="216.7" width="3" height="16.9" fill="#4cb07e"/>
<rect x="718" y="195.5" width="1" height="42.3" fill="#e9485e"/>
<rect x="717" y="203.0" width="3" height="29.7" fill="#e9485e"/>
<rect x="722" y="189.3" width="1" height="27.7" fill="#4cb07e"/>
<rect x="721" y="203.2" width="3" height="5.4" fill="#4cb07e"/>
<rect x="726" y="204.0" width="1" height="23.1" fill="#e9485e"/>
<rect x="725" y="207.0" width="3" height="2.4" fill="#e9485e"/>
<rect x="730" y="202.0" width="1" height="18.2" fill="#4cb07e"/>
<rect x="729" y="207.8" width="3" height="9.3" fill="#4cb07e"/>
<rect x="734" y="203.0" width="1" height="18.0" fill="#e9485e"/>
<rect x="733" y="211.0" width="3" height="6.0" fill="#e9485e"/>
<rect x="738" y="183.2" width="1" height="27.8" fill="#e9485e"/>
<rect x="737" y="185.2" width="3" height="25.3" fill="#e9485e"/>
<rect x="742" y="165.4" width="1" height="20.1" fill="#e9485e"/>
<rect x="741" y="167.7" width="3" height="17.5" fill="#e9485e"/>
<rect x="746" y="164.2" width="1" height="17.4" fill="#4cb07e"/>
<rect x="745" y="167.7" width="3" height="13.1" fill="#4cb07e"/>
<rect x="750" y="165.4" width="1" height="19.1" fill="#e9485e"/>
<rect x="749" y="167.7" width="3" height="16.3" fill="#e9485e"/>
<rect x="754" y="165.4" width="1" height="7.6" fill="#4cb07e"/>
<rect x="753" y="166.7" width="3" height="3.3" fill="#4cb07e"/>
<rect x="758" y="168.0" width="1" height="18.2" fill="#4cb07e"/>
<rect x="757" y="169.3" width="3" height="15.4" fill="#4cb07e"/>
<rect x="762" y="183.2" width="1" height="27.8" fill="#4cb07e"/>
<rect x="761" y="183.9" width="3" height="26.3" fill="#4cb07e"/>
</g>
<polyline points="74.30,327.50 92.00,327.00 118.20,326.00 133.60,323.50 146.00,321.40 163.80,318.70 173.40,315.30 186.00,310.50 205.50,298.80 232.00,287.10 264.80,273.80 295.00,260.20 332.80,246.80 370.60,233.40 408.50,220.30 446.30,209.00 458.90,206.50 472.00,205.70 502.00,203.75 532.00,201.00 560.00,198.30 597.70,191.80 626.00,185.20 654.20,181.40 673.10,180.10 692.00,181.25 717.00,184.50 747.00,185.00 762.00,184.50" fill="none" stroke="#e37fdc" stroke-width="1" shape-rendering="crispEdges"/>
<polyline points="75.00,303.10 87.40,303.50 99.70,303.90 110.50,307.00 118.20,307.00 130.60,300.40 140.00,294.00 146.00,294.70 154.20,293.10 162.40,289.20 169.30,285.10 178.90,272.80 186.00,263.20 201.70,237.40 214.50,219.40 227.40,205.30 240.00,195.00 252.00,187.50 277.00,167.50 302.00,152.50 327.00,141.25 352.00,133.75 387.00,121.00 412.00,116.00 434.50,110.50 449.50,110.50 468.30,120.00 487.10,129.40 506.00,133.20 521.00,136.00 530.40,140.70 539.90,144.50 553.00,147.30 568.10,148.30 578.80,146.50 588.30,141.80 607.10,134.30 622.20,131.50 644.80,129.60 660.00,131.00 676.50,135.10 690.80,146.50 711.40,157.80 727.90,167.10 738.20,171.20 760.90,172.20" fill="none" stroke="#4cbc80" stroke-width="1" shape-rendering="crispEdges"/>
<polyline points="74.30,322.40 78.20,323.20 84.30,319.30 96.70,315.20 102.80,317.00 110.50,320.40 116.70,319.30 121.30,314.00 130.60,300.80 140.00,290.90 146.00,286.80 150.10,284.00 154.20,286.20 158.30,279.70 162.40,278.30 166.50,271.40 174.80,255.00 181.10,232.30 191.40,209.10 200.40,188.60 209.40,168.00 221.00,150.00 227.00,142.50 234.50,136.25 242.00,133.00 252.00,132.00 259.50,128.75 267.00,123.75 277.00,117.50 287.00,113.75 302.00,111.25 314.50,109.50 327.00,107.50 339.50,105.50 352.00,105.50 362.00,102.50 377.00,101.00 392.00,100.00 417.00,97.50 437.00,92.50 447.00,94.50 458.00,106.00 468.30,123.80 477.70,131.30 489.00,140.70 496.50,144.50 506.00,147.30 519.10,149.20 526.70,154.80 534.20,161.40 538.00,163.30 549.30,163.30 560.60,162.40 574.10,159.70 584.50,144.60 597.70,133.30 609.00,126.70 618.40,121.10 650.40,122.40 654.20,126.20 669.30,132.40 680.60,143.00 692.90,165.00 703.20,175.20 713.50,187.60 721.70,191.70 734.00,196.20 746.30,190.70 756.60,187.20 760.70,188.60" fill="none" stroke="#3d8ff0" stroke-width="1" shape-rendering="crispEdges"/>
<g shape-rendering="crispEdges">
<line x1="71" y1="60.5" x2="882" y2="60.5" stroke="#0000ff" stroke-width="1" stroke-dasharray="3 3" stroke-dashoffset="0"/>
<line x1="71" y1="167.5" x2="882" y2="167.5" stroke="#0000ff" stroke-width="1" stroke-dasharray="3 3" stroke-dashoffset="0"/>
<line x1="71" y1="273.5" x2="882" y2="273.5" stroke="#0000ff" stroke-width="1" stroke-dasharray="3 3" stroke-dashoffset="0"/>
<line x1="71" y1="311.5" x2="882" y2="311.5" stroke="#0000ff" stroke-width="1" stroke-dasharray="3 3" stroke-dashoffset="0"/>
<line x1="71" y1="209.5" x2="882" y2="209.5" stroke="#0a7cff" stroke-width="1" stroke-dasharray="3 3" stroke-dashoffset="-1"/>
</g>
<line x1="434.6" y1="60.5" x2="545.9" y2="272.9" stroke="#0000ff" stroke-width="1" shape-rendering="crispEdges"/>
<line x1="450.1" y1="102.7" x2="533.9" y2="225.3" stroke="#0000ff" stroke-width="1" shape-rendering="crispEdges"/>
<g shape-rendering="crispEdges" fill="#111"><rect x="196" y="64" width="5" height="1"/><rect x="198" y="62" width="1" height="5"/></g>
<g shape-rendering="crispEdges" fill="#111"><rect x="432" y="60" width="5" height="1"/><rect x="434" y="58" width="1" height="5"/></g>
<g shape-rendering="crispEdges" fill="#111"><rect x="712" y="243" width="5" height="1"/><rect x="714" y="241" width="1" height="5"/></g>
<text x="203.2" y="60.6" fill="#e9485e" font-size="12" text-anchor="start" font-weight="bold" textLength="43.4" lengthAdjust="spacingAndGlyphs">154.441</text>
<text x="440.0" y="56.5" fill="#e9485e" font-size="12" text-anchor="start" font-weight="bold" textLength="43.4" lengthAdjust="spacingAndGlyphs">154.479</text>
<text x="882.0" y="56.5" fill="#0000ff" font-size="12" text-anchor="end" font-weight="normal" textLength="43.6" lengthAdjust="spacingAndGlyphs" stroke="#0000ff" stroke-width="0.15">154.479</text>
<text x="882.0" y="163.5" fill="#0000ff" font-size="12" text-anchor="end" font-weight="normal" textLength="43.6" lengthAdjust="spacingAndGlyphs" stroke="#0000ff" stroke-width="0.15">153.498</text>
<text x="882.0" y="269.5" fill="#0000ff" font-size="12" text-anchor="end" font-weight="normal" textLength="43.6" lengthAdjust="spacingAndGlyphs" stroke="#0000ff" stroke-width="0.15">152.532</text>
<text x="882.0" y="307.5" fill="#0000ff" font-size="12" text-anchor="end" font-weight="normal" textLength="43.6" lengthAdjust="spacingAndGlyphs" stroke="#0000ff" stroke-width="0.15">152.185</text>
<text x="545.5" y="306.9" fill="#0000ff" font-size="12" text-anchor="start" font-weight="normal" textLength="45.0" lengthAdjust="spacingAndGlyphs" stroke="#0000ff" stroke-width="0.2">152.200</text>
<text x="719.5" y="254.5" fill="#6dbb8f" font-size="12" text-anchor="start" font-weight="bold" textLength="44.5" lengthAdjust="spacingAndGlyphs">152.812</text>
<rect x="882.5" y="209.5" width="67.5" height="16.5" fill="#fff" stroke="#ff8a1e" stroke-width="1"/>
<text x="885.9" y="221.4" fill="#ff8a1e" font-size="12" text-anchor="start" font-weight="normal" textLength="43.4" lengthAdjust="spacingAndGlyphs">153.126</text>
<path d="M942.5 204.8 L946.2 200.8 L950 204.8 Z M942.5 209.5 L946.2 205.6 L950 209.5 Z" fill="#ff8a1e"/>
<svg x="0" y="409" width="952" height="154" overflow="hidden"><g transform="translate(0,-409)">
<polyline points="74.50,484.83 78.50,489.38 82.50,490.86 86.50,492.91 90.50,494.10 94.50,494.77 98.50,496.07 102.50,500.16 106.50,503.87 110.50,509.95 114.50,509.21 118.50,503.11 122.50,495.92 126.50,489.39 130.50,484.65 134.50,482.90 138.50,482.69 142.50,486.08 146.50,491.46 150.50,498.27 154.50,506.93 158.50,505.71 162.50,502.69 166.50,495.83 170.50,488.38 174.50,480.98 178.50,474.68 182.50,469.16 186.50,463.63 190.50,459.51 194.50,455.66 198.50,455.98 202.50,457.51 206.50,462.15 210.50,473.03 214.50,485.14 218.50,496.71 222.50,505.97 226.50,509.82 230.50,513.07 234.50,511.37 238.50,512.66 242.50,515.82 246.50,517.11 250.50,516.20 254.50,510.69 258.50,504.95 262.50,500.17 266.50,491.86 270.50,484.49 274.50,480.13 278.50,479.85 282.50,482.36 286.50,490.49 290.50,495.42 294.50,498.44 298.50,504.22 302.50,507.39 306.50,506.64 310.50,504.45 314.50,500.89 318.50,496.08 322.50,494.73 326.50,494.79 330.50,491.53 334.50,487.92 338.50,486.53 342.50,488.22 346.50,493.52 350.50,497.87 354.50,497.82 358.50,494.17 362.50,494.47 366.50,497.08 370.50,498.47 374.50,498.68 378.50,500.52 382.50,496.48 386.50,491.68 390.50,495.91 394.50,498.25 398.50,498.42 402.50,496.68 406.50,494.01 410.50,489.44 414.50,486.18 418.50,483.66 422.50,484.09 426.50,481.32 430.50,479.39 434.50,480.98 438.50,489.21 442.50,499.32 446.50,505.16 450.50,512.38 454.50,518.27 458.50,521.04 462.50,520.90 466.50,521.94 470.50,519.38 474.50,514.71 478.50,511.08 482.50,512.23 486.50,509.81 490.50,512.00 494.50,508.30 498.50,501.94 502.50,496.15 506.50,488.43 510.50,481.94 514.50,477.18 518.50,473.94 522.50,480.70 526.50,491.45 530.50,499.98 534.50,503.98 538.50,502.54 542.50,499.35 546.50,492.00 550.50,484.74 554.50,483.19 558.50,486.56 562.50,485.77 566.50,486.92 570.50,489.21 574.50,488.96 578.50,483.87 582.50,479.55 586.50,473.60 590.50,471.19 594.50,472.17 598.50,475.43 602.50,480.34 606.50,486.86 610.50,489.55 614.50,492.84 618.50,493.81 622.50,499.14 626.50,505.39 630.50,508.34 634.50,511.97 638.50,512.21 642.50,512.26 646.50,505.95 650.50,503.85 654.50,507.79 658.50,509.87 662.50,510.13 666.50,511.88 670.50,514.78 674.50,517.02 678.50,521.45 682.50,526.71 686.50,531.78 690.50,533.53 694.50,532.71 698.50,527.89 702.50,521.75 706.50,514.05 710.50,508.54 714.50,507.76 718.50,501.88 722.50,496.88 726.50,492.45 730.50,491.08 734.50,490.36 738.50,485.07 742.50,478.22 746.50,474.58 750.50,469.94 754.50,466.13 758.50,470.87 762.50,482.03" fill="none" stroke="#42c27c" stroke-width="1" shape-rendering="crispEdges"/>
<polyline points="74.50,483.95 78.50,498.47 82.50,493.81 86.50,497.02 90.50,496.47 94.50,496.10 98.50,498.68 102.50,508.33 106.50,511.30 110.50,522.12 114.50,507.73 118.50,490.92 122.50,481.53 126.50,476.33 130.50,475.17 134.50,479.40 138.50,482.26 142.50,492.85 146.50,502.24 150.50,511.90 154.50,524.23 158.50,503.29 162.50,496.65 166.50,482.12 170.50,473.49 174.50,466.18 178.50,462.07 182.50,458.11 186.50,452.56 190.50,451.27 194.50,447.98 198.50,456.62 202.50,460.57 206.50,471.42 210.50,494.80 214.50,509.36 218.50,519.84 222.50,524.50 226.50,517.52 230.50,519.55 234.50,507.98 238.50,515.25 242.50,522.15 246.50,519.67 250.50,514.39 254.50,499.66 258.50,493.48 262.50,490.60 266.50,475.26 270.50,469.73 274.50,471.42 278.50,479.29 282.50,487.38 286.50,506.75 290.50,505.27 294.50,504.49 298.50,515.78 302.50,513.72 306.50,505.15 310.50,500.07 314.50,493.76 318.50,486.46 322.50,492.02 326.50,494.93 330.50,484.99 334.50,480.72 338.50,483.73 342.50,491.61 346.50,504.13 350.50,506.56 354.50,497.74 358.50,486.87 362.50,495.08 366.50,502.28 370.50,501.25 374.50,499.11 378.50,504.20 382.50,488.40 386.50,482.07 390.50,504.37 394.50,502.94 398.50,498.75 402.50,493.19 406.50,488.68 410.50,480.31 414.50,479.66 418.50,478.61 422.50,484.97 426.50,475.76 430.50,475.55 434.50,484.16 438.50,505.67 442.50,519.55 446.50,516.83 450.50,526.82 454.50,530.06 458.50,526.58 462.50,520.62 466.50,524.02 470.50,514.25 474.50,505.39 478.50,503.80 482.50,514.54 486.50,504.97 490.50,516.38 494.50,500.90 498.50,489.21 502.50,484.59 506.50,472.97 510.50,468.95 514.50,467.68 518.50,467.44 522.50,494.24 526.50,512.95 530.50,517.05 534.50,511.96 538.50,499.66 542.50,492.98 546.50,477.29 550.50,470.23 554.50,480.07 558.50,493.30 562.50,484.19 566.50,489.23 570.50,493.80 574.50,488.45 578.50,473.70 582.50,470.91 586.50,461.69 590.50,466.39 594.50,474.13 598.50,481.94 602.50,490.17 606.50,499.90 610.50,494.93 614.50,499.41 618.50,495.75 622.50,509.82 626.50,517.88 630.50,514.25 634.50,519.22 638.50,512.69 642.50,512.37 646.50,493.32 650.50,499.66 654.50,515.67 658.50,514.04 662.50,510.64 666.50,515.39 670.50,520.58 674.50,521.48 678.50,530.33 682.50,537.22 686.50,541.92 690.50,537.03 694.50,531.07 698.50,518.26 702.50,509.46 706.50,498.65 710.50,497.52 714.50,506.19 718.50,490.13 722.50,486.86 726.50,483.59 730.50,488.35 734.50,488.93 738.50,474.47 742.50,464.52 746.50,467.31 750.50,460.65 754.50,458.51 758.50,479.51 762.50,504.31" fill="none" stroke="#3a88f2" stroke-width="1" shape-rendering="crispEdges"/>
<polyline points="74.50,482.17 78.50,516.64 82.50,499.72 86.50,505.25 90.50,501.22 94.50,498.78 98.50,503.90 102.50,524.69 106.50,526.15 110.50,546.44 114.50,504.76 118.50,466.52 122.50,452.75 126.50,450.22 130.50,456.21 134.50,472.39 138.50,481.42 142.50,506.41 146.50,523.78 150.50,539.14 154.50,558.83 158.50,498.44 162.50,484.56 166.50,454.68 170.50,443.69 174.50,436.59 178.50,436.84 182.50,436.02 186.50,430.44 190.50,434.79 194.50,432.60 198.50,457.91 202.50,466.70 206.50,489.96 210.50,538.33 214.50,557.79 218.50,566.11 222.50,561.56 226.50,532.92 230.50,532.53 234.50,501.20 238.50,520.42 242.50,534.79 246.50,524.80 250.50,510.77 254.50,477.60 258.50,470.55 262.50,471.46 266.50,442.04 270.50,440.21 274.50,454.00 278.50,478.18 282.50,497.42 286.50,539.28 290.50,524.97 294.50,516.58 298.50,538.91 302.50,526.38 306.50,502.16 310.50,491.32 314.50,479.51 318.50,467.23 322.50,486.62 326.50,495.19 330.50,471.93 334.50,466.31 338.50,478.14 342.50,498.38 346.50,525.33 350.50,523.95 354.50,497.56 358.50,472.26 362.50,496.29 366.50,512.70 370.50,506.81 374.50,499.96 378.50,511.56 382.50,472.24 386.50,462.86 390.50,521.30 394.50,512.31 398.50,499.42 402.50,486.21 406.50,478.01 410.50,462.05 414.50,466.61 418.50,468.52 422.50,486.71 426.50,464.65 430.50,467.87 434.50,490.50 438.50,538.58 442.50,560.01 446.50,540.16 450.50,555.71 454.50,553.64 458.50,537.65 462.50,520.06 466.50,528.17 470.50,504.00 474.50,486.74 478.50,489.25 482.50,519.15 486.50,495.29 490.50,525.15 494.50,486.10 498.50,463.76 502.50,461.45 506.50,442.06 510.50,442.99 514.50,448.67 518.50,454.45 522.50,521.31 526.50,555.94 530.50,551.18 534.50,527.93 538.50,493.90 542.50,480.23 546.50,447.87 550.50,441.21 554.50,473.85 558.50,506.80 562.50,481.03 566.50,493.84 570.50,502.96 574.50,487.44 578.50,453.35 582.50,453.62 586.50,437.88 590.50,456.77 594.50,478.05 598.50,494.96 602.50,509.82 606.50,525.98 610.50,505.69 614.50,512.54 618.50,499.64 622.50,531.17 626.50,542.85 630.50,526.07 634.50,533.73 638.50,513.64 642.50,512.59 646.50,468.05 650.50,491.27 654.50,531.42 658.50,522.37 662.50,511.66 666.50,522.40 670.50,532.19 674.50,530.41 678.50,548.09 682.50,558.23 686.50,562.21 690.50,544.03 694.50,527.80 698.50,499.00 702.50,484.87 706.50,467.84 710.50,475.48 714.50,503.07 718.50,466.63 722.50,466.84 726.50,465.87 730.50,482.89 734.50,486.06 738.50,453.28 742.50,437.13 746.50,452.77 750.50,442.08 754.50,443.28 758.50,496.80 762.50,548.86" fill="none" stroke="#3ab0ea" stroke-width="1" shape-rendering="crispEdges"/>
</g></svg>
<text x="73.6" y="422.5" fill="#222" font-size="12" text-anchor="start" font-weight="normal" textLength="55.6" lengthAdjust="spacingAndGlyphs">KDJ(5,3,3)</text>
<text x="134.7" y="422.5" fill="#4f95f0" font-size="12" text-anchor="start" font-weight="normal" textLength="47.6" lengthAdjust="spacingAndGlyphs">K:42.430</text>
<text x="190.8" y="422.5" fill="#56c48a" font-size="12" text-anchor="start" font-weight="normal" textLength="49.5" lengthAdjust="spacingAndGlyphs">D:62.531</text>
<text x="250.0" y="422.5" fill="#3fb0e8" font-size="12" text-anchor="start" font-weight="normal" textLength="37.4" lengthAdjust="spacingAndGlyphs">J:2.229</text>
<g transform="translate(10,416)"><circle r="3.4" fill="none" stroke="#111" stroke-width="1.1"/><circle r="1.8" fill="#ee1111"/><g stroke="#ee1111" stroke-width="1"><line x1="0" y1="-5" x2="0" y2="-6.5"/><line x1="0" y1="5" x2="0" y2="6.5"/><line x1="-5" y1="0" x2="-6.5" y2="0"/><line x1="5" y1="0" x2="6.5" y2="0"/><line x1="3.6" y1="3.6" x2="4.7" y2="4.7"/><line x1="-3.6" y1="3.6" x2="-4.7" y2="4.7"/><line x1="3.6" y1="-3.6" x2="4.7" y2="-4.7"/><line x1="-3.6" y1="-3.6" x2="-4.7" y2="-4.7"/></g></g>
<text x="112.9" y="575.8" fill="#2a2a38" font-size="12" text-anchor="start" font-weight="bold" textLength="29.3" lengthAdjust="spacingAndGlyphs">10/30</text>
<text x="304.8" y="575.8" fill="#2a2a38" font-size="12" text-anchor="start" font-weight="bold" textLength="29.3" lengthAdjust="spacingAndGlyphs">11/01</text>
<text x="492.9" y="575.8" fill="#2a2a38" font-size="12" text-anchor="start" font-weight="bold" textLength="29.3" lengthAdjust="spacingAndGlyphs">11/05</text>
<text x="684.8" y="575.8" fill="#2a2a38" font-size="12" text-anchor="start" font-weight="bold" textLength="29.3" lengthAdjust="spacingAndGlyphs">11/07</text>
<rect x="1.5" y="563.5" width="69" height="19" fill="none" stroke="#e4e9ef" stroke-width="1"/>
<text x="15.2" y="577.6" fill="#ff7a1a" font-size="12" text-anchor="start" font-weight="normal" textLength="13.4" lengthAdjust="spacingAndGlyphs" stroke="#ff7a1a" stroke-width="0.3">60</text>
<g stroke="#ff7a1a" stroke-width="1.5" fill="none" stroke-linecap="square"><path d="M32.5 567.5 L29 572.5 M35.5 567.5 L40 572.5 M30.5 573.5 H38.5 L38 578 Q37.5 579 36 578.5 M33.5 573.5 Q33.5 577 30 579"/></g>
<path d="M46 578 L50.3 570 L54.6 578 Z" fill="#ff7a1a"/>
<text x="823.8" y="560.4" fill="#c2a68c" font-size="31" letter-spacing="1.75">FX678</text>
<text x="822.8" y="559.2" fill="#dde7f4" font-size="31" letter-spacing="1.75">FX678</text>
<g stroke="#000" stroke-width="1" fill="none">
<path d="M76.3 3.8 L77.8 5.8 M81.7 3.8 L80.2 5.8" stroke-width="1.2"/>
<path shape-rendering="crispEdges" d="M73 6.5 H85 M74 8.5 H84 M73 10.5 H85 M73 12.5 H85 M79.5 6.5 V12.5"/>
<path d="M79.2 12.8 Q77.5 14.6 73 14.6 M79.8 12.8 Q81.5 14.6 85 14.6" stroke-width="1.1"/>
<path shape-rendering="crispEdges" d="M86 4.5 H96 M85 8.5 H97 M92.5 8.5 V14.5 H96 M96.5 14.5 V12"/>
<path d="M88.6 8.8 Q88.2 13.2 85.2 14.8" stroke-width="1.1"/>
<path shape-rendering="crispEdges" d="M110 4.5 H120 M109 8.5 H121 M116.5 8.5 V14.5 H120 M120.5 14.5 V12"/>
<path d="M112.6 8.8 Q112.2 13.2 109.2 14.8" stroke-width="1.1"/>
<path shape-rendering="crispEdges" d="M99.5 4 V15 M106.5 4 V15 M99 4.5 H107 M99 8.5 H107 M99 13.5 H107"/>
</g>
<path d="M127.5 4.5 H131.5 L129.8 7.5 V12.5 L131.5 15.5 H127.5 Z" fill="#ff7a1a"/>
<text x="133.4" y="13.9" fill="#ff7a1a" font-size="12.8" text-anchor="start" font-weight="normal" textLength="11.8" lengthAdjust="spacingAndGlyphs">60</text>
<g stroke="#ff7a1a" stroke-width="1.1" fill="none" stroke-linecap="square"><path d="M150 5 L146.5 10 M153.5 5 L158 10 M148 10.5 H156 L155.5 15 Q155 16 153.5 15.5 M151 10.5 Q151 14 147 15.5"/></g>
<path d="M160 4.5 H164 V15.5 H160 L161.7 12.5 V7.5 Z" fill="#ff7a1a"/>
<g stroke="#ff8a30" stroke-width="0.8" fill="none"><circle cx="175.6" cy="11.3" r="4.2"/><path d="M171.4 11.3 H179.8 M175.6 7.1 V15.5"/></g>
<rect x="188.5" y="1.5" width="11" height="11" fill="#fff" stroke="#1c1c8c" stroke-width="1.2"/>
<rect x="189.5" y="13" width="11" height="1" fill="#8a8aa0"/>
<polyline points="189.5,7 192,4 194.5,6.5 197,3.5 199,5" fill="none" stroke="#e82020" stroke-width="1"/>
<polyline points="189.5,10 192,7 194.5,9.5 197,6.5 199,8" fill="none" stroke="#2020e8" stroke-width="1"/>
<text x="203.2" y="13.5" fill="#111" font-size="12" text-anchor="start" font-weight="normal" textLength="152.0" lengthAdjust="spacingAndGlyphs">EXPMA(20,50,200,200,200)</text>
<text x="360.3" y="13.5" fill="#4a8ff2" font-size="12" text-anchor="start" font-weight="normal" textLength="73.9" lengthAdjust="spacingAndGlyphs">MA1:153.307</text>
<text x="443.4" y="13.5" fill="#4fc48a" font-size="12" text-anchor="start" font-weight="normal" textLength="74.5" lengthAdjust="spacingAndGlyphs">MA2:153.454</text>
<text x="526.6" y="13.5" fill="#3fb0ee" font-size="12" text-anchor="start" font-weight="normal" textLength="74.5" lengthAdjust="spacingAndGlyphs">MA3:153.345</text>
<text x="610.0" y="13.5" fill="#f59048" font-size="12" text-anchor="start" font-weight="normal" textLength="73.5" lengthAdjust="spacingAndGlyphs">MA4:153.345</text>
<text x="693.0" y="13.5" fill="#e68ee0" font-size="12" text-anchor="start" font-weight="normal" textLength="52.5" lengthAdjust="spacingAndGlyphs">MA5:153.</text>
<rect x="819.5" y="1.5" width="13" height="13" fill="#fff" stroke="#1f78d0" stroke-width="1"/>
<rect x="835.5" y="1.5" width="13" height="13" fill="#fff" stroke="#1f78d0" stroke-width="1"/>
<rect x="851.5" y="1.5" width="13" height="13" fill="#1f78d0" stroke="#1f78d0" stroke-width="1"/>
<rect x="867.5" y="1.5" width="13" height="13" fill="#fff" stroke="#1f78d0" stroke-width="1"/>
<g fill="#1f78d0" shape-rendering="crispEdges"><rect x="825" y="3" width="2" height="3"/><rect x="825" y="10" width="2" height="3"/><rect x="821" y="7" width="3" height="2"/><rect x="828" y="7" width="3" height="2"/><rect x="825" y="7" width="2" height="2"/></g>
<g stroke="#1f78d0" stroke-width="1" fill="none"><path d="M838.5 3.5 V12.5 H847.5 M837 5 L838.5 3.5 L840 5 M846 11 L847.5 12.5 L846 14 M841.5 5 V10"/></g><path d="M846 5 L842.5 7.5 L846 10 Z" fill="#1f78d0"/>
<g stroke="#fff" stroke-width="1" fill="none"><path d="M854.5 3.5 V12.5 H863.5 M853 5 L854.5 3.5 L856 5 M862 11 L863.5 12.5 L862 14 M857.5 5 V10"/></g><path d="M858 5 L861.5 7.5 L858 10 Z" fill="#fff"/>
<g stroke="#1f78d0" stroke-width="1" fill="none"><path d="M870.5 4.5 H873.5 V12.5 H870.5 Z M873.5 8.5 H877"/></g><path d="M876 5.5 L879 8.5 L876 11.5 Z" fill="#1f78d0"/>
</svg></body></html>
